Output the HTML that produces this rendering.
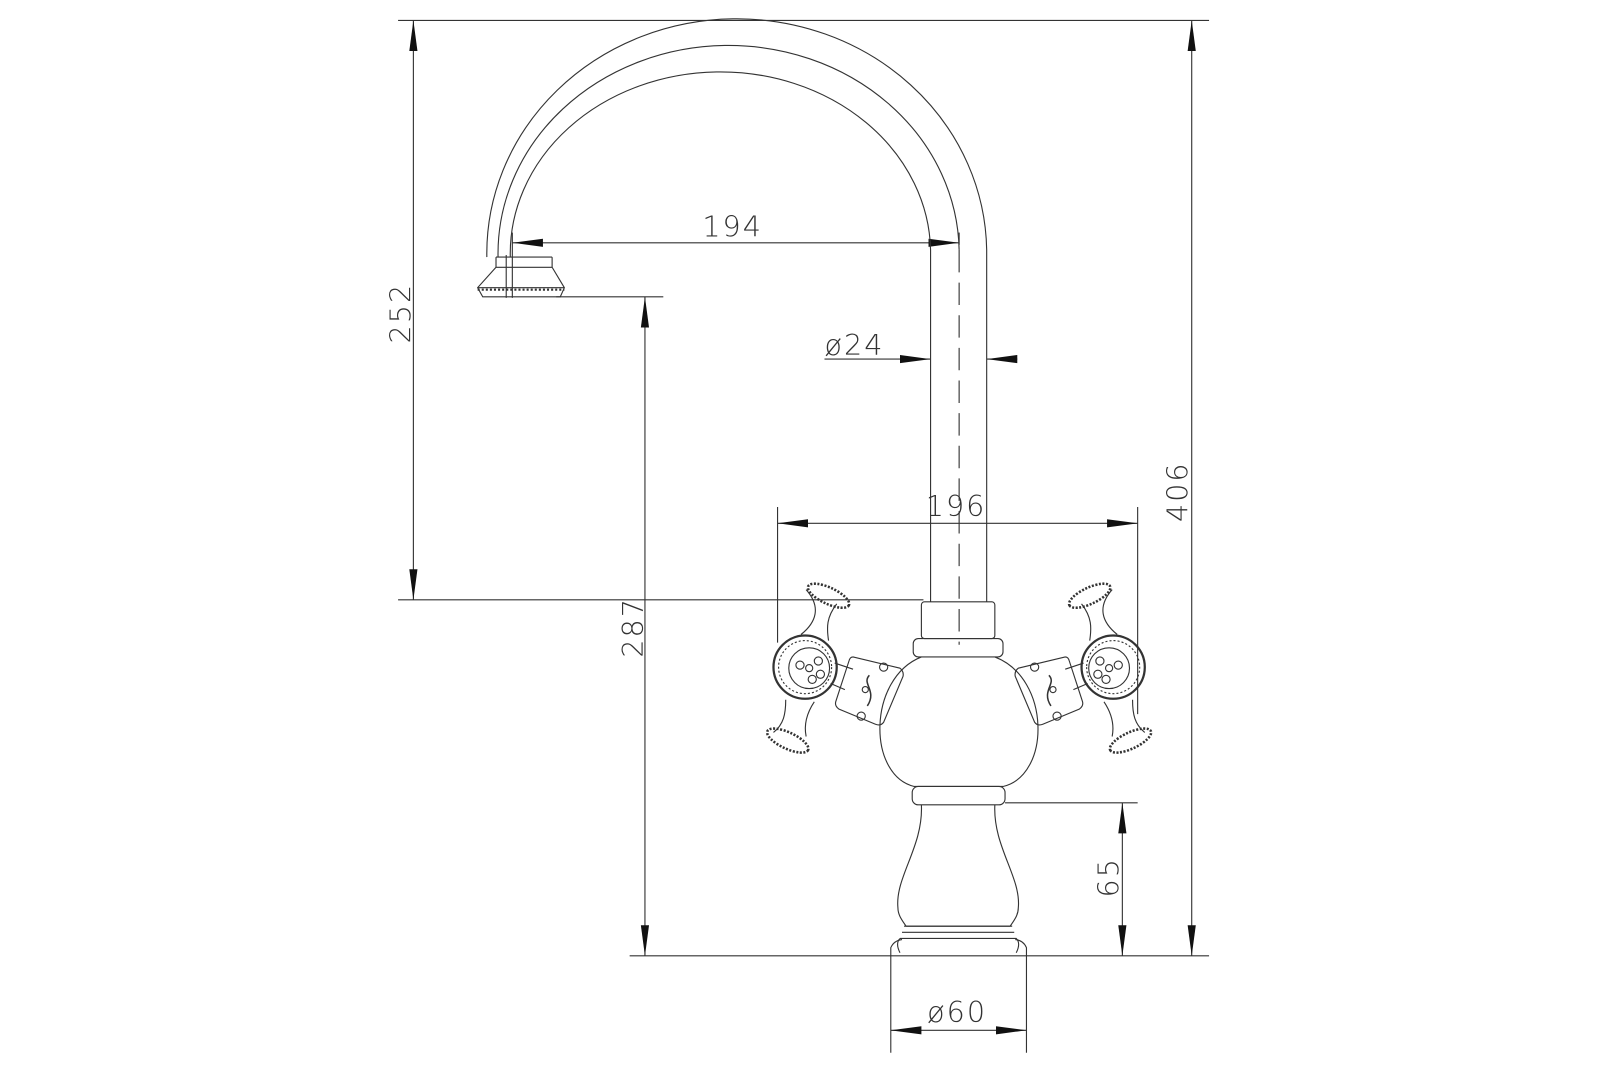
<!DOCTYPE html>
<html><head><meta charset="utf-8"><style>
html,body{margin:0;padding:0;background:#fff;}
svg{display:block;}
text{font-family:"DejaVu Sans","Liberation Sans",sans-serif;font-size:28px;fill:#333;font-weight:200;letter-spacing:2px;}
</style></head><body>
<svg width="1600" height="1066" viewBox="0 0 1568 1045" xmlns="http://www.w3.org/2000/svg">
<defs>
<marker id="a" viewBox="0 0 30 10" refX="30" refY="5" markerWidth="30" markerHeight="10" markerUnits="userSpaceOnUse" orient="auto-start-reverse"><path d="M0,1 L30,5 L0,9 z" fill="#111"/></marker>
</defs>
<g stroke="#333" stroke-width="1.1" fill="none">
<line x1="390" y1="20" x2="1185" y2="20"/>
<line x1="390" y1="588" x2="905" y2="588"/>
<line x1="545" y1="291" x2="650" y2="291"/>
<line x1="617" y1="937" x2="1185" y2="937"/>
<line x1="985" y1="787" x2="1115" y2="787"/>
<line x1="762" y1="497" x2="762" y2="630"/>
<line x1="1115" y1="497" x2="1115" y2="700"/>
<line x1="873" y1="937" x2="873" y2="1032"/>
<line x1="1006" y1="937" x2="1006" y2="1032"/>
<line x1="502" y1="228" x2="502" y2="292"/>
<line x1="940" y1="228" x2="940" y2="240"/>
<line x1="405" y1="20" x2="405" y2="588" marker-start="url(#a)" marker-end="url(#a)"/>
<line x1="1168" y1="20" x2="1168" y2="937" marker-start="url(#a)" marker-end="url(#a)"/>
<line x1="632" y1="291" x2="632" y2="937" marker-start="url(#a)" marker-end="url(#a)"/>
<line x1="1100" y1="787" x2="1100" y2="937" marker-start="url(#a)" marker-end="url(#a)"/>
<line x1="502" y1="238" x2="940" y2="238" marker-start="url(#a)" marker-end="url(#a)"/>
<line x1="762" y1="513" x2="1115" y2="513" marker-start="url(#a)" marker-end="url(#a)"/>
<line x1="873" y1="1010" x2="1006" y2="1010" marker-start="url(#a)" marker-end="url(#a)"/>
<line x1="808" y1="352" x2="912" y2="352" marker-end="url(#a)"/>
<line x1="997" y1="352" x2="967" y2="352" marker-end="url(#a)"/>
<path d="M477,252 A245,230 0 0 1 967,245 L967,590"/>
<path d="M500,252 A206,178 0 0 1 912,245 L912,590"/>
<path d="M488,252 A226,204 0 0 1 940,245"/>
<line x1="940" y1="245" x2="940" y2="632" stroke-dasharray="22,10"/>
<path d="M486,252 L541,252 M486,252 L486,262 L541,262 L541,252 M486,262 L468,282 L473,291 L549,291 L553,282 L541,262 M468,282 L553,282"/>
<line x1="468" y1="284" x2="553" y2="284" stroke-dasharray="2,2" stroke-width="2"/>
<line x1="496" y1="250" x2="496" y2="292"/>
<rect x="903" y="590" width="72" height="36" rx="3"/>
<rect x="895" y="626" width="88" height="18" rx="5"/>
<path d="M903,644 C850,665 850,760 896,771 L983,771 C1030,760 1030,665 975,644"/>
<rect x="894" y="771" width="91" height="18" rx="6"/>
<path d="M903,789 C905,830 877,860 880,890 C880,897 884,902 888,908 L990,908 C994,902 998,897 998,890 C1001,860 973,830 975,789"/>
<path d="M886,908 L992,908 M884,914 L994,914 M882,920 L996,920 C1000,924 998,930 996,934 M882,920 C878,924 880,930 882,934"/>
<path d="M873,937 L873,929 Q876,922 884,921 M1006,937 L1006,929 Q1003,922 995,921"/>
<g id="h">
<path d="M790,578 C805,595 800,610 785,622 M820,592 C810,605 810,615 812,628"/>
<ellipse cx="812" cy="584" rx="22" ry="8" transform="rotate(25 812 584)" stroke-width="2.5" stroke-dasharray="2,1.5"/>
<path d="M770,686 C770,700 768,710 758,718 M798,688 C790,700 788,712 790,722"/>
<ellipse cx="772" cy="726" rx="22" ry="8" transform="rotate(25 772 726)" stroke-width="2.5" stroke-dasharray="2,1.5"/>
<circle cx="789" cy="654" r="31" stroke-width="2.2"/>
<circle cx="789" cy="654" r="26" stroke-dasharray="2,2"/>
<circle cx="793" cy="655" r="20"/>
<circle cx="793" cy="655" r="3.5"/><circle cx="802" cy="648" r="4"/><circle cx="784" cy="652" r="4"/><circle cx="796" cy="666" r="4"/><circle cx="804" cy="661" r="4"/>
<path d="M818,650 L836,656 M814,670 L828,676"/>
<path d="M836,644 L882,655 Q886,658 885,663 L866,708 Q863,712 858,710 L822,695 Q818,692 819,688 L832,648 Q833,644 836,644 Z"/>
<path d="M852,662 C844,670 860,677 850,692" stroke-width="1.5"/>
<circle cx="848" cy="676" r="3"/><circle cx="866" cy="654" r="4"/><circle cx="844" cy="702" r="4"/>
</g>
<use href="#h" transform="translate(1880,0) scale(-1,1)"/>
</g>
<text x="718" y="232" text-anchor="middle">194</text>
<text x="808" y="348">ø24</text>
<text x="937" y="506" text-anchor="middle">196</text>
<text x="938" y="1002" text-anchor="middle">ø60</text>
<text transform="translate(402,307) rotate(-90)" text-anchor="middle">252</text>
<text transform="translate(630,615) rotate(-90)" text-anchor="middle">287</text>
<text transform="translate(1164,482) rotate(-90)" text-anchor="middle">406</text>
<text transform="translate(1096,860) rotate(-90)" text-anchor="middle">65</text>
</svg>
</body></html>
